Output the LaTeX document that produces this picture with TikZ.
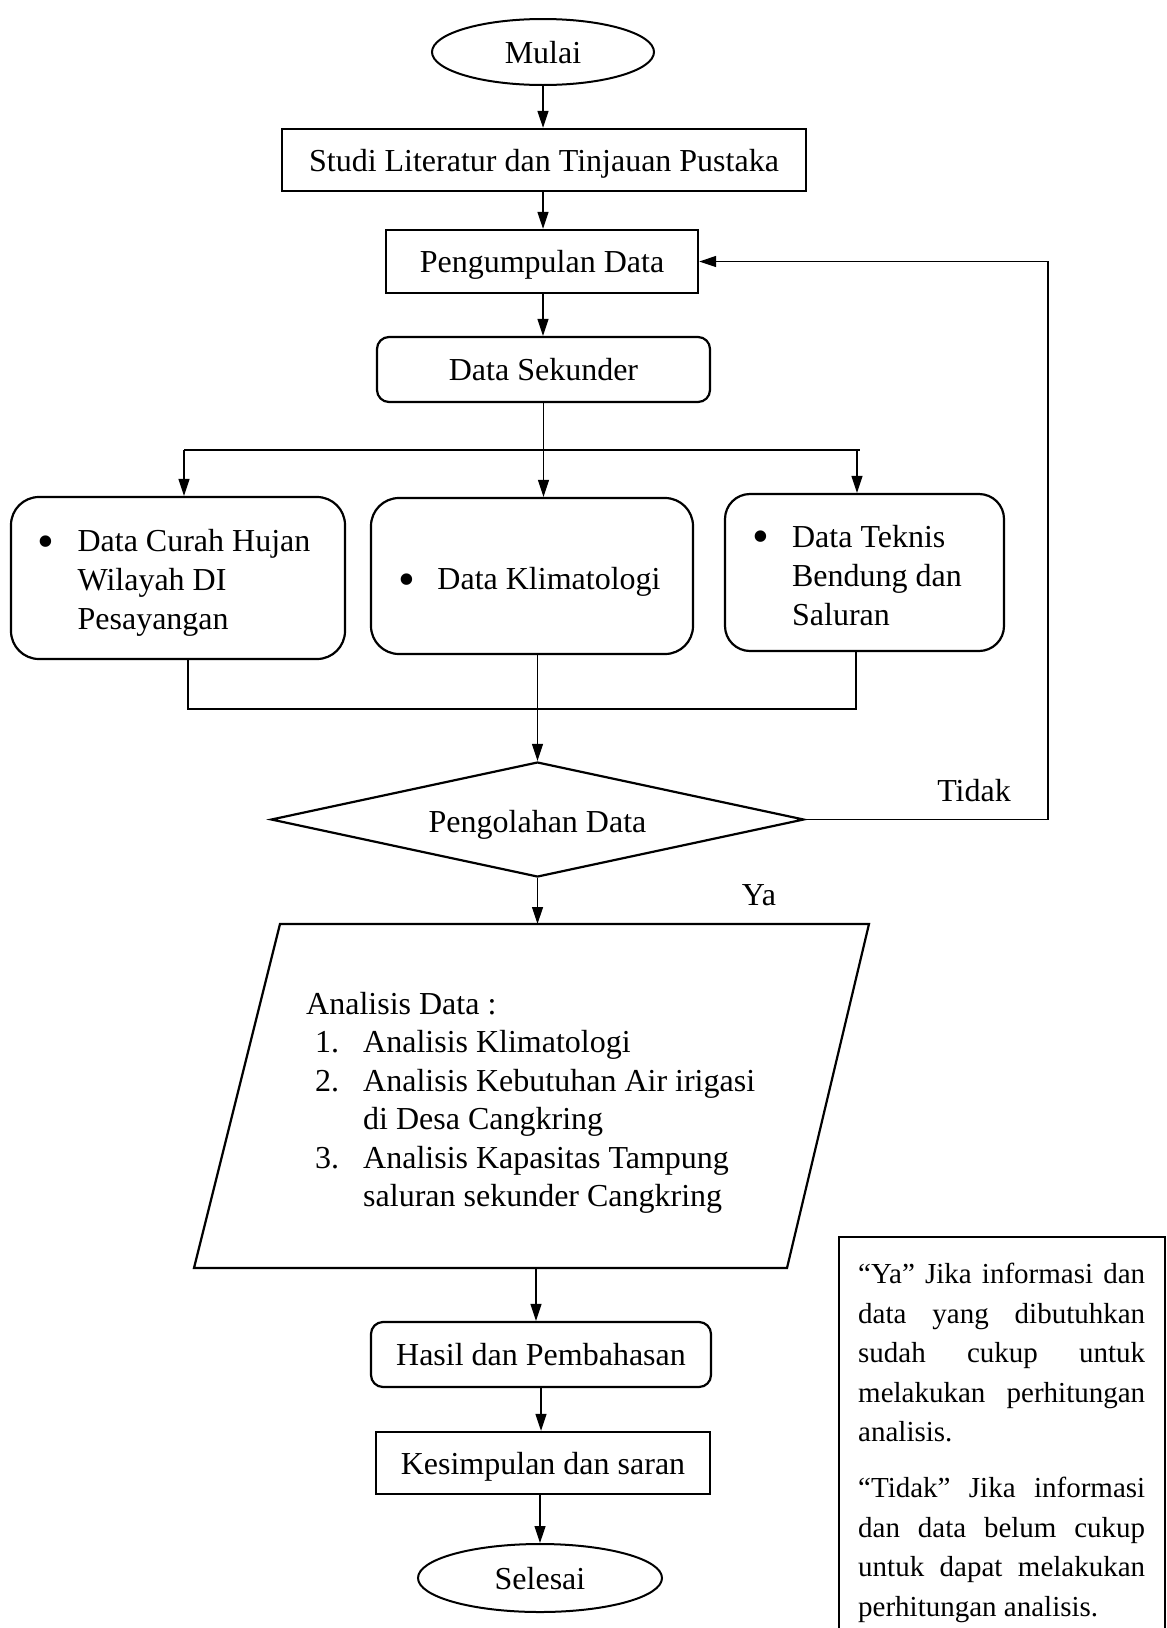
\documentclass[tikz,border=0pt]{standalone}
\usepackage{fontspec}
\setmainfont{Liberation Serif}
\usetikzlibrary{arrows.meta,shapes.geometric}
\newcommand{\bigbul}{\hspace*{-4.5pt}\raisebox{-5.5pt}{\scalebox{1.5}{\textbullet}}}
\begin{document}
\begin{tikzpicture}[x=1pt,y=-1pt,
  every node/.style={font=\fontsize{32}{39}\selectfont, inner sep=0pt},
  one/.style={text height=29pt, text depth=7pt},
  box/.style={draw, line width=2.4pt, rectangle, one},
  rbox/.style={draw, line width=2.2pt, rounded corners=12pt, one},
  bigr/.style={draw, line width=2.2pt, rounded corners=28pt},
  term/.style={draw, line width=2pt, ellipse, one},
  arr/.style={line width=1.2pt, -{Triangle[length=17pt,width=11pt]}},
  ln/.style={line width=1.2pt}]
\useasboundingbox (0,0) rectangle (1167,1628);

\node[term, minimum width=222pt, minimum height=66pt] (start) at (543,52) {Mulai};
\node[box, minimum width=524pt, minimum height=62pt] (studi) at (544,160) {Studi Literatur dan Tinjauan Pustaka};
\node[box, minimum width=312pt, minimum height=63pt] (peng) at (542,261.5) {Pengumpulan Data};
\node[rbox, minimum width=333pt, minimum height=65pt] (sek) at (543.5,369.5) {Data Sekunder};

\node[bigr, minimum width=334pt, minimum height=162pt] (b1) at (178,578)
  {\raisebox{-5pt}[\height][\depth]{\begin{tabular}{@{}l@{}}\makebox[36pt][l]{\bigbul}Data Curah Hujan\\ \hspace*{36pt}Wilayah DI\\ \hspace*{36pt}Pesayangan\end{tabular}}\hspace*{4pt}};
\node[bigr, text height=33pt, text depth=6pt, minimum width=322pt, minimum height=156pt] (b2) at (532,576)
  {\makebox[34pt][l]{\bigbul}Data Klimatologi};
\node[bigr, rounded corners=25pt, minimum width=279pt, minimum height=157pt] (b3) at (864.5,572.5)
  {\raisebox{-6pt}[\height][\depth]{\begin{tabular}{@{}l@{}}\makebox[35pt][l]{\bigbul}Data Teknis\\ \hspace*{35pt}Bendung dan\\ \hspace*{35pt}Saluran\end{tabular}}\hspace*{10pt}};

\node[draw, diamond, line width=2.2pt, aspect=4.6, text height=32pt, text depth=6pt, minimum width=533pt, minimum height=115pt] (dia) at (537.5,819.5) {Pengolahan Data};

\node (tidak) at (974,791) {Tidak};
\node (ya) at (759,895) {Ya};

% parallelogram
\coordinate (pTL) at (280,924);
\coordinate (pTR) at (869,924);
\coordinate (pBR) at (787,1268);
\coordinate (pBL) at (194,1268);
\coordinate (pTop) at (536,924);
\coordinate (pBot) at (536,1268);
\draw[line width=2.2pt, line join=miter] (pTL) -- (pTR) -- (pBR) -- (pBL) -- cycle;
\node[anchor=west] (ana) at (306,1103) {\fontsize{32}{38.5}\selectfont\begin{tabular}{@{}l@{}}
Analisis Data :\\
\hspace*{9pt}\makebox[48pt][l]{1.}Analisis Klimatologi\\
\hspace*{9pt}\makebox[48pt][l]{2.}Analisis Kebutuhan Air irigasi\\
\hspace*{57pt}di Desa Cangkring\\
\hspace*{9pt}\makebox[48pt][l]{3.}Analisis Kapasitas Tampung\\
\hspace*{57pt}saluran sekunder Cangkring
\end{tabular}};

\node[rbox, minimum width=340pt, minimum height=65pt] (hasil) at (541,1354.5) {Hasil dan Pembahasan};
\node[box, minimum width=334pt, minimum height=62pt] (kes) at (543,1463) {Kesimpulan dan saran};
\node[term, minimum width=244pt, minimum height=68pt] (sel) at (540,1578) {Selesai};

% connectors
\draw[arr] (start.south) -- (start.south |- studi.north);
\draw[arr] (start.south |- studi.south) -- (start.south |- peng.north);
\draw[arr] (start.south |- peng.south) -- (start.south |- sek.north);

\coordinate (brL) at (184,450);
\coordinate (brR) at (860,450);
\coordinate (br3) at (857,450);
\draw[ln] (brL) -- (brR);
\draw[arr] (sek.south) -- (sek.south |- b2.north);
\draw[arr] (brL) -- (brL |- b1.north);
\draw[arr] (br3) -- (br3 |- b3.north);

\coordinate (mL) at (188,709);
\coordinate (mR) at (856,709);
\draw[ln] (mL |- b1.south) -- (mL) -- (mR) -- (mR |- b3.south);
\draw[arr] (dia.north |- b2.south) -- (dia.north);

\coordinate (fb) at (1048,540);
\draw[arr] (dia.east) -| (fb) |- (peng.east);

\draw[arr] (dia.south) -- (dia.south |- pTop);
\draw[arr] (pBot) -- (pBot |- hasil.north);
\draw[arr] (hasil.south) -- (hasil.south |- kes.north);
\draw[arr] (sel.north |- kes.south) -- (sel.north);

% note
\draw[line width=1.2pt] (839,1632) |- (1165,1237) -- (1165,1632);
\node[anchor=north west, text width=287pt, align=justify, font=\fontsize{29}{39.5}\selectfont] (note) at (858,1263)
  {\setlength{\parindent}{0pt}“Ya” Jika informasi dan\linebreak data yang dibutuhkan\linebreak sudah cukup untuk\linebreak melakukan perhitungan\linebreak analisis.\par\vspace{16.5pt}“Tidak” Jika informasi\linebreak dan data belum cukup\linebreak untuk dapat melakukan\linebreak perhitungan analisis.};
\end{tikzpicture}
\end{document}
